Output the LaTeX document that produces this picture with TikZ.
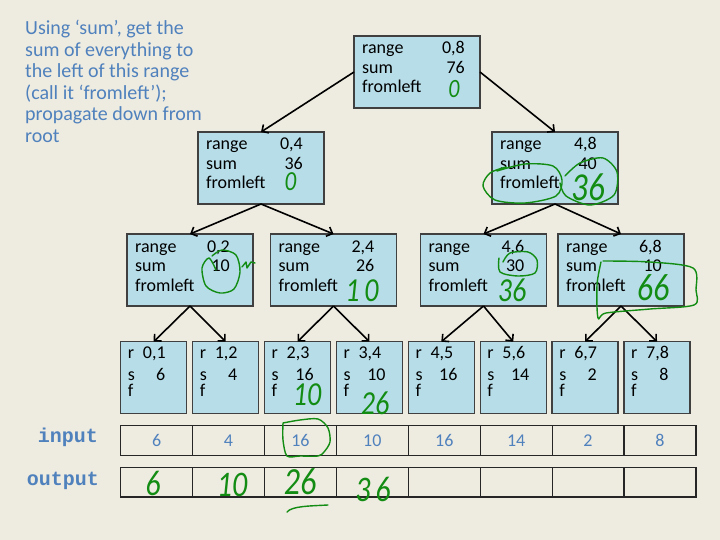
\documentclass[tikz,border=0pt]{standalone}
\usepackage{fontspec}
\usepackage{graphicx}
\setmainfont{Carlito}
\newfontfamily\codefont{Liberation Mono}
\usetikzlibrary{arrows.meta,positioning}

\definecolor{slidebg}{HTML}{EEEBE0}
\definecolor{boxfill}{HTML}{B7DDE8}
\definecolor{noteblue}{HTML}{4F81BD}
\definecolor{pen}{HTML}{138C13}

\newcommand{\tall}[1]{\scalebox{1}[1.2]{#1}}

\tikzset{
  treebox/.style={draw=black!75, line width=1.3pt, fill=boxfill, minimum width=126pt,
    minimum height=72pt, inner sep=0pt, outer sep=0pt, anchor=north west},
  leafbox/.style={treebox, minimum width=66pt},
  cell/.style={draw=black!85, line width=1.2pt, minimum width=71.9pt, minimum height=29.6pt,
    inner sep=0pt, outer sep=0pt, anchor=north west, text=noteblue, font=\fontsize{18}{20}\selectfont},
  lbl/.style={inner sep=0pt, font=\fontsize{18}{19.5}\selectfont, anchor=base west},
  val/.style={lbl, anchor=base east},
  note/.style={inner sep=0pt, anchor=north west, align=left, text=noteblue,
    font=\fontsize{20}{21.5}\selectfont},
  code/.style={inner sep=0pt, anchor=base east, text=noteblue, font=\codefont\bfseries\fontsize{20}{22}\selectfont},
  arr/.style={-{Straight Barb[length=5pt,width=10pt]}, line width=1.6pt},
  hand/.style={text=pen, inner sep=0pt, font=\itshape\fontsize{28}{30}\selectfont},
  ink/.style={draw=pen, line width=1.4pt, line cap=round, line join=round},
}

\begin{document}
\begin{tikzpicture}[x=1pt,y=-1pt]

% --- Slide background ---
\fill[slidebg] (0,0) rectangle (720,540);
\useasboundingbox (0,0) rectangle (720,540);

% --- Note ---
\node[note] (note) at (25,20) {Using ‘sum’, get the\\sum of everything to\\the left of this range\\(call it ‘fromleft’);\\propagate down from\\root};

% --- Inner tree nodes ---
\foreach \nm/\x/\y/\rng/\sm/\off in {
    root/354/36/{0,8}/76/111,
    l1a/198/132/{0,4}/36/105,
    l1b/492/132/{4,8}/40/105,
    l2a/127/234/{0,2}/10/103,
    l2b/270.5/234/{2,4}/26/104,
    l2c/420.5/234/{4,6}/30/104,
    l2d/558/234/{6,8}/10/104
}{
    \node[treebox] (\nm) at (\x,\y) {};
    \node[lbl] (\nm-r) at ([shift={(8,18)}]\nm.north west) {range};
    \node[lbl] (\nm-s) at ([shift={(8,37.5)}]\nm.north west) {sum};
    \node[lbl] (\nm-f) at ([shift={(8,57)}]\nm.north west) {fromleft};
    \node[val] (\nm-rv) at ([shift={(\off,18)}]\nm.north west) {\rng};
    \node[val] (\nm-sv) at ([shift={(\off,37.5)}]\nm.north west) {\sm};
}

% --- Leaves ---
\foreach \i/\rng/\sm in {0/{0,1}/6, 1/{1,2}/4, 2/{2,3}/16, 3/{3,4}/10,
                         4/{4,5}/16, 5/{5,6}/14, 6/{6,7}/2, 7/{7,8}/8}{
    \node[leafbox] (leaf\i) at (120.7+71.9*\i,341.7) {};
    \node[lbl] (leaf\i-r) at ([shift={(7,17)}]leaf\i.north west) {r};
    \node[lbl] (leaf\i-s) at ([shift={(7,38.5)}]leaf\i.north west) {s};
    \node[lbl] (leaf\i-f) at ([shift={(7,55)}]leaf\i.north west) {f};
    \node[lbl] (leaf\i-rv) at ([shift={(22,17)}]leaf\i.north west) {\rng};
    \node[lbl, anchor=base] (leaf\i-sv) at ([shift={(40,38.5)}]leaf\i.north west) {\sm};
}

% --- Arrows ---
\draw[arr] (root.west) -- (l1a.north);
\draw[arr] (root.east) -- (l1b.north);
\foreach \p/\a/\b in {l1a/l2a/l2b, l1b/l2c/l2d, l2a/leaf0/leaf1,
                      l2b/leaf2/leaf3, l2c/leaf4/leaf5, l2d/leaf6/leaf7}{
    \draw[arr] (\p.south) -- (\a.north);
    \draw[arr] (\p.south) -- (\b.north);
}

% --- Input / output arrays ---
\foreach \v [count=\i from 0] in {6,4,16,10,16,14,2,8}{
    \node[cell] (in\i) at (120.7+71.9*\i,425.7) {\v};
    \node[cell] (out\i) at (120.7+71.9*\i,467.3) {};
}
\node[code] (inlbl) at (98,442.7) {input};
\node[code] (outlbl) at (99,485) {output};

% --- Handwritten notes ---
\node[hand, font=\itshape\fontsize{22}{24}\selectfont] (h-root) at (454,89.5) {\tall{0}};
\node[hand, font=\itshape\fontsize{23}{25}\selectfont] (h-l1a) at (290.5,181.5) {\tall{0}};
\node[hand, font=\itshape\fontsize{33}{35}\selectfont] (h-l1b) at (588,187) {\tall{36}};
\node[hand] (h-l2b) at (362,291) {\tall{1\,0}};
\node[hand] (h-l2c) at (512,290) {\tall{36}};
\node[hand, font=\itshape\fontsize{32}{34}\selectfont] (h-l2d) at (653,288) {\tall{66}};
\node[hand] (h-leaf2) at (307,395) {\tall{10}};
\node[hand] (h-leaf3) at (375,403) {\tall{26}};
\node[hand, font=\itshape\fontsize{30}{32}\selectfont] (h-out0) at (153,483) {\tall{6}};
\node[hand, font=\itshape\fontsize{30}{32}\selectfont] (h-out1) at (232,485) {\tall{10}};
\node[hand, font=\itshape\fontsize{32}{34}\selectfont] (h-out2) at (300,482) {\tall{26}};
\node[hand, font=\itshape\fontsize{30}{32}\selectfont] (h-out3) at (373,489) {\tall{3\,6}};

% loops round fromleft and 36
\draw[ink] plot[smooth] coordinates {(497,171) (525,164) (553,166) (562,180) (556,196)
    (525,203) (495,200) (483,186) (490,173) (506,167)};
\draw[ink] plot[smooth] coordinates {(565,176) (580,163) (603,158) (617,172) (614,195)
    (590,205) (566,196) (560,183)};
% circle round 10, with tick
\draw[ink] plot[smooth] coordinates {(212,256) (222,250) (236,255) (240,272) (234,289)
    (220,293) (206,286) (202,268) (209,258) (216,270)};
\draw[ink] (242,267) -- (246,262) -- (247,268) -- (251,262) -- (255,263);
% circle round 30
\draw[ink] plot[smooth] coordinates {(503,262) (510,253) (528,252) (537,260) (535,273)
    (518,276) (500,272) (499,258)};
% loop round 66
\draw[ink] plot[smooth] coordinates {(603,261) (650,262) (693,268) (696,290) (694,305)
    (650,309) (606,313) (598,318) (597,285) (601,262)};
% box round input 16
\draw[ink] plot[smooth] coordinates {(283,423) (300,420) (318,419) (328,428) (330,442)
    (324,452) (318,456) (300,456) (287,456) (283,440) (283,423)};
% underline under 26
\draw[ink] (287,512) .. controls (292,506) and (310,506) .. (328,505);

\end{tikzpicture}
\end{document}
